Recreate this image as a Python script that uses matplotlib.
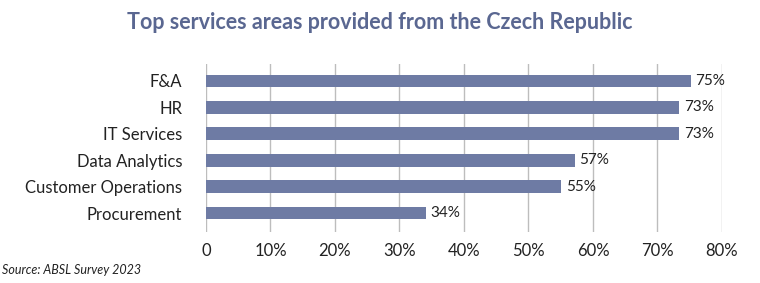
import matplotlib.pyplot as plt
from matplotlib.ticker import FuncFormatter

COLOR_BAR = "#6E7BA4"
COLOR_TITLE = "#5A6791"
COLOR_GRID = "#BDBDBD"
COLOR_TEXT = "#222222"

categories = ["F&A", "HR", "IT Services", "Data Analytics", "Customer Operations", "Procurement"]
values = [75.2, 73.4, 73.4, 57.2, 55.1, 34.1]
labels = ["75%", "73%", "73%", "57%", "55%", "34%"]
xticks = [0, 10, 20, 30, 40, 50, 60, 70, 80]

plt.rcParams["font.family"] = ["Lato", "DejaVu Sans"]

fig = plt.figure(figsize=(7.6, 2.83), dpi=100)
fig.patch.set_facecolor("white")
ax = fig.add_axes([0.271, 0.180, 0.679, 0.594])

y = list(range(len(categories)))
ax.barh(y, values, height=0.48, color=COLOR_BAR, zorder=2)
for yi, v, lab in zip(y, values, labels):
    ax.text(v + 0.7, yi, lab, va="center", ha="left", fontsize=11, color=COLOR_TEXT)

ax.set_xlim(0, 80)
ax.set_ylim(5.72, -0.64)
ax.set_yticks(y)
ax.set_yticklabels(categories, fontsize=12, color=COLOR_TEXT)
ax.set_xticks(xticks)
ax.xaxis.set_major_formatter(FuncFormatter(lambda v, _: "0" if v == 0 else f"{v:.0f}%"))
ax.tick_params(axis="x", length=0, labelsize=12, labelcolor=COLOR_TEXT, pad=8)
ax.tick_params(axis="y", length=0, pad=17)
ax.grid(axis="x", color=COLOR_GRID, lw=1, zorder=1)
for s in ax.spines.values():
    s.set_visible(False)

fig.text(0.5, 0.92, "Top services areas provided from the Czech Republic",
         ha="center", va="center", fontsize=15.5, fontweight="bold", color=COLOR_TITLE)
fig.text(0.003, 0.045, "Source: ABSL Survey 2023", ha="left", va="center",
         fontsize=9, style="italic", color=COLOR_TEXT)

fig.savefig("out.png", dpi=100, facecolor="white")
